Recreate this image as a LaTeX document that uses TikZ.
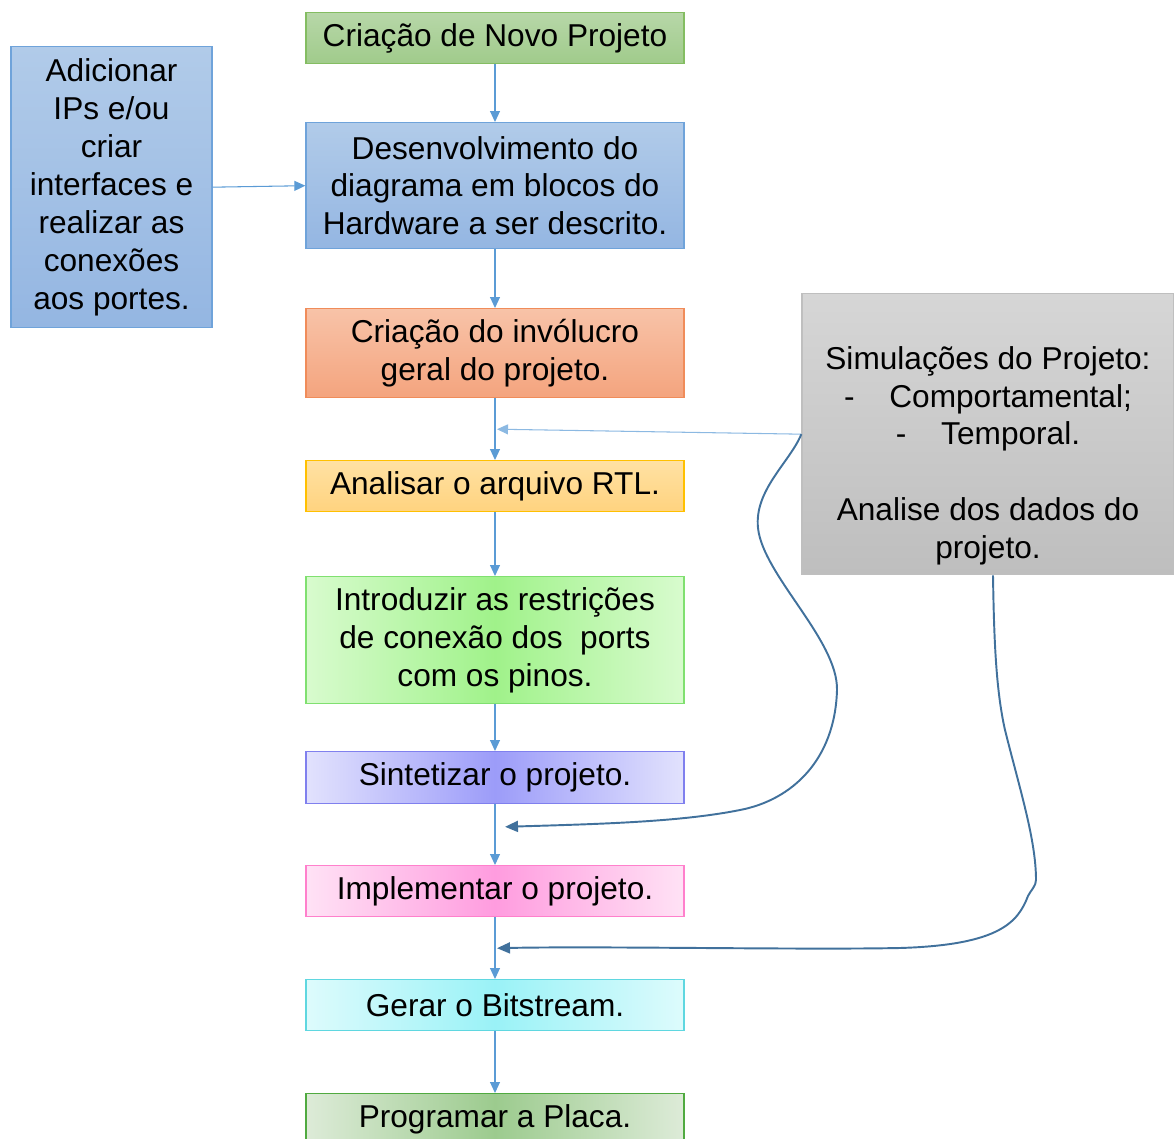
\documentclass[tikz,border=0pt]{standalone}
\usepackage{fontspec}
\setmainfont{Liberation Sans}
\usetikzlibrary{arrows.meta,positioning,calc}
\definecolor{fxazul}{HTML}{5B9BD5}
\definecolor{fxescuro}{HTML}{41719C}
\definecolor{fxcinza}{HTML}{BFBFBF}
\definecolor{verdeA}{HTML}{B7D7A8}
\definecolor{verdeB}{HTML}{A0CB8B}
\definecolor{verdeL}{HTML}{84BD62}
\definecolor{azulA}{HTML}{B1CBE9}
\definecolor{azulB}{HTML}{94B6E2}
\definecolor{azulL}{HTML}{6FA3DA}
\definecolor{laranjaA}{HTML}{F8C3A8}
\definecolor{laranjaB}{HTML}{F4A47E}
\definecolor{laranjaL}{HTML}{F08C5A}
\definecolor{amareloA}{HTML}{FFE1A3}
\definecolor{amareloB}{HTML}{FFD37F}
\definecolor{amareloL}{HTML}{FFC000}
\definecolor{limaA}{HTML}{D8FBCE}
\definecolor{limaB}{HTML}{A0F28A}
\definecolor{limaL}{HTML}{80E070}
\definecolor{roxoA}{HTML}{E2E2FD}
\definecolor{roxoB}{HTML}{9C9CF9}
\definecolor{roxoL}{HTML}{8080EE}
\definecolor{rosaA}{HTML}{FFE2F5}
\definecolor{rosaB}{HTML}{FF9CDF}
\definecolor{rosaL}{HTML}{FF80CC}
\definecolor{cianoA}{HTML}{DDFBFC}
\definecolor{cianoB}{HTML}{9AF2F7}
\definecolor{cianoL}{HTML}{5FD7E0}
\definecolor{musgoA}{HTML}{DDEBD8}
\definecolor{musgoB}{HTML}{9CCB8E}
\definecolor{musgoL}{HTML}{50AA40}
\definecolor{cinzaA}{HTML}{D6D6D6}
\definecolor{cinzaB}{HTML}{BEBEBE}

\begin{document}
\begin{tikzpicture}[x=0.02cm,y=-0.02cm,
  etapa/.style={draw=#1,line width=0.8pt,minimum width=7.56cm,inner sep=0pt,
    align=center,anchor=north,font=\fontsize{18pt}{21.6pt}\selectfont},
  vertical/.style 2 args={top color=#1,bottom color=#2},
  centro/.style 2 args={left color=#1,right color=#1,middle color=#2},
  fluxo/.style={draw=fxazul,line width=0.6pt,-{Triangle[length=0.22cm,width=0.2cm]}},
  retorno/.style={draw=fxescuro,line width=1.1pt,-{Triangle[length=0.26cm,width=0.22cm]}}]
\clip (0,0) rectangle (1174,1139);

\node[etapa=verdeL,minimum height=1.02cm,vertical={verdeA}{verdeB}] (c1) at (495,12) {Criação de Novo Projeto};
\node[etapa=azulL,minimum height=2.52cm,vertical={azulA}{azulB}] (c2) at (495,122)
      {Desenvolvimento do\\diagrama em blocos do\\Hardware a ser descrito.};
\node[etapa=laranjaL,minimum height=1.78cm,vertical={laranjaA}{laranjaB}] (c3) at (495,308)
      {Criação do invólucro\\geral do projeto.};
\node[etapa=amareloL,minimum height=1.02cm,vertical={amareloA}{amareloB}] (c4) at (495,460) {Analisar o arquivo RTL.};
\node[etapa=limaL,minimum height=2.54cm,centro={limaA}{limaB}] (c5) at (495,576)
      {Introduzir as restrições\\de conexão dos~ ports\\com os pinos.};
\node[etapa=roxoL,minimum height=1.04cm,centro={roxoA}{roxoB}] (c6) at (495,751) {Sintetizar o projeto.};
\node[etapa=rosaL,minimum height=1.02cm,centro={rosaA}{rosaB}] (c7) at (495,865) {Implementar o projeto.};
\node[etapa=cianoL,minimum height=1.02cm,centro={cianoA}{cianoB}] (c8) at (495,979) {Gerar o Bitstream.};
\node[etapa=musgoL,minimum height=1.02cm,centro={musgoA}{musgoB}] (c9) at (495,1093) {Programar a Placa.};

\node[etapa=azulL,minimum width=4.02cm,minimum height=5.62cm,vertical={azulA}{azulB}] (ips) at (111.5,46)
      {Adicionar\\IPs e/ou\\criar\\interfaces e\\realizar as\\conexões\\aos portes.};
\node[etapa=fxcinza,minimum width=7.44cm,minimum height=5.62cm,vertical={cinzaA}{cinzaB}] (sim) at (988,293)
      {\mbox{}\\[16pt]Simulações do Projeto:\\-\hspace{1.1em}Comportamental;\\-\hspace{1.1em}Temporal.\\\mbox{}\\Analise dos dados do\\projeto.};

\coordinate (j1) at ($(c3.south)!0.5!(c4.north)+(2,0)$);
\coordinate (j2) at ($(c6.south)!0.37!(c7.north)+(10,0)$);
\coordinate (j3) at ($(c7.south)!0.5!(c8.north)+(2,0)$);

\foreach \a/\b in {c1/c2,c2/c3,c3/c4,c4/c5,c5/c6,c6/c7,c7/c8,c8/c9}
  \draw[fluxo] (\a) -- (\b);
\draw[fluxo] (ips.east) -- (c2.west);
\draw[fluxo,draw=fxazul!70] (sim.west) -- (j1);

\draw[retorno] (sim.west) .. controls (790,462) and (754,490) .. (758,528)
  .. controls (763,575) and (838,640) .. (837,690)
  .. controls (835,760) and (792,800) .. (740,810)
  .. controls (680,822) and (600,824) .. (j2);
\draw[retorno] ($(sim.south)+(5,0)$) .. controls (994,640) and (996,690) .. (1005,730)
  .. controls (1020,790) and (1036,840) .. (1036,880)
  .. controls (1036,886) and (1031,890) .. (1028,896)
  .. controls (1018,922) and (1000,945) .. (900,948)
  .. controls (800,950) and (600,946) .. (j3);
\end{tikzpicture}
\end{document}
